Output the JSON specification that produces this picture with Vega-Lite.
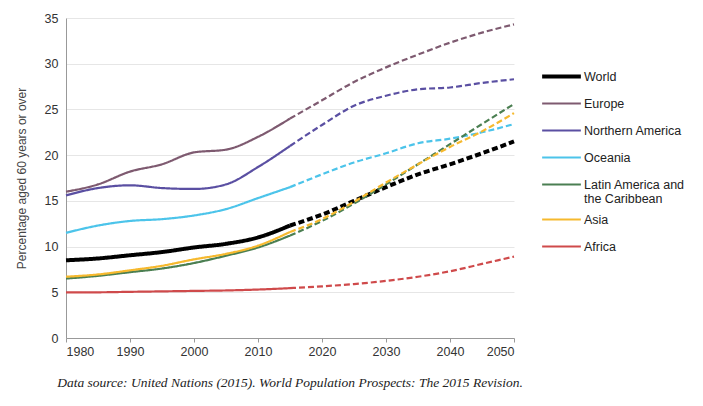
{
  "$schema": "https://vega.github.io/schema/vega-lite/v6.json",
  "width": 448,
  "height": 320,
  "autosize": {"type": "none"},
  "padding": {"left": 66, "top": 18, "right": 189, "bottom": 68},
  "background": "white",
  "title": {
    "text": "Data source: United Nations (2015). World Population Prospects: The 2015 Revision.",
    "orient": "bottom",
    "anchor": "middle",
    "font": "Liberation Serif",
    "fontSize": 13.5,
    "fontWeight": "normal",
    "fontStyle": "italic",
    "color": "#222",
    "offset": 18
  },
  "config": {
    "font": "Liberation Sans",
    "view": {"stroke": null},
    "axis": {"labelFont": "Liberation Sans", "titleFont": "Liberation Sans", "labelColor": "#333", "titleColor": "#444"}
  },
  "data": {
    "values": [
      {"region": "World", "year": 1980, "value": 8.5, "phase": "actual"},
      {"region": "World", "year": 1985, "value": 8.7, "phase": "actual"},
      {"region": "World", "year": 1990, "value": 9.05, "phase": "actual"},
      {"region": "World", "year": 1995, "value": 9.4, "phase": "actual"},
      {"region": "World", "year": 2000, "value": 9.9, "phase": "actual"},
      {"region": "World", "year": 2005, "value": 10.3, "phase": "actual"},
      {"region": "World", "year": 2010, "value": 11.0, "phase": "actual"},
      {"region": "World", "year": 2015, "value": 12.3, "phase": "actual"},
      {"region": "World", "year": 2015, "value": 12.3, "phase": "projected"},
      {"region": "World", "year": 2020, "value": 13.5, "phase": "projected"},
      {"region": "World", "year": 2025, "value": 15.0, "phase": "projected"},
      {"region": "World", "year": 2030, "value": 16.5, "phase": "projected"},
      {"region": "World", "year": 2035, "value": 17.9, "phase": "projected"},
      {"region": "World", "year": 2040, "value": 19.0, "phase": "projected"},
      {"region": "World", "year": 2045, "value": 20.2, "phase": "projected"},
      {"region": "World", "year": 2050, "value": 21.5, "phase": "projected"},

      {"region": "Europe", "year": 1980, "value": 16.0, "phase": "actual"},
      {"region": "Europe", "year": 1985, "value": 16.8, "phase": "actual"},
      {"region": "Europe", "year": 1990, "value": 18.2, "phase": "actual"},
      {"region": "Europe", "year": 1995, "value": 19.0, "phase": "actual"},
      {"region": "Europe", "year": 2000, "value": 20.3, "phase": "actual"},
      {"region": "Europe", "year": 2005, "value": 20.6, "phase": "actual"},
      {"region": "Europe", "year": 2010, "value": 22.0, "phase": "actual"},
      {"region": "Europe", "year": 2015, "value": 24.0, "phase": "actual"},
      {"region": "Europe", "year": 2015, "value": 24.0, "phase": "projected"},
      {"region": "Europe", "year": 2020, "value": 26.0, "phase": "projected"},
      {"region": "Europe", "year": 2025, "value": 28.0, "phase": "projected"},
      {"region": "Europe", "year": 2030, "value": 29.6, "phase": "projected"},
      {"region": "Europe", "year": 2035, "value": 31.0, "phase": "projected"},
      {"region": "Europe", "year": 2040, "value": 32.3, "phase": "projected"},
      {"region": "Europe", "year": 2045, "value": 33.4, "phase": "projected"},
      {"region": "Europe", "year": 2050, "value": 34.3, "phase": "projected"},

      {"region": "Northern America", "year": 1980, "value": 15.6, "phase": "actual"},
      {"region": "Northern America", "year": 1985, "value": 16.4, "phase": "actual"},
      {"region": "Northern America", "year": 1990, "value": 16.7, "phase": "actual"},
      {"region": "Northern America", "year": 1995, "value": 16.4, "phase": "actual"},
      {"region": "Northern America", "year": 2000, "value": 16.3, "phase": "actual"},
      {"region": "Northern America", "year": 2005, "value": 16.8, "phase": "actual"},
      {"region": "Northern America", "year": 2010, "value": 18.7, "phase": "actual"},
      {"region": "Northern America", "year": 2015, "value": 21.0, "phase": "actual"},
      {"region": "Northern America", "year": 2015, "value": 21.0, "phase": "projected"},
      {"region": "Northern America", "year": 2020, "value": 23.3, "phase": "projected"},
      {"region": "Northern America", "year": 2025, "value": 25.4, "phase": "projected"},
      {"region": "Northern America", "year": 2030, "value": 26.5, "phase": "projected"},
      {"region": "Northern America", "year": 2035, "value": 27.2, "phase": "projected"},
      {"region": "Northern America", "year": 2040, "value": 27.4, "phase": "projected"},
      {"region": "Northern America", "year": 2045, "value": 27.9, "phase": "projected"},
      {"region": "Northern America", "year": 2050, "value": 28.3, "phase": "projected"},

      {"region": "Oceania", "year": 1980, "value": 11.5, "phase": "actual"},
      {"region": "Oceania", "year": 1985, "value": 12.3, "phase": "actual"},
      {"region": "Oceania", "year": 1990, "value": 12.8, "phase": "actual"},
      {"region": "Oceania", "year": 1995, "value": 13.0, "phase": "actual"},
      {"region": "Oceania", "year": 2000, "value": 13.4, "phase": "actual"},
      {"region": "Oceania", "year": 2005, "value": 14.1, "phase": "actual"},
      {"region": "Oceania", "year": 2010, "value": 15.3, "phase": "actual"},
      {"region": "Oceania", "year": 2015, "value": 16.5, "phase": "actual"},
      {"region": "Oceania", "year": 2015, "value": 16.5, "phase": "projected"},
      {"region": "Oceania", "year": 2020, "value": 17.9, "phase": "projected"},
      {"region": "Oceania", "year": 2025, "value": 19.2, "phase": "projected"},
      {"region": "Oceania", "year": 2030, "value": 20.2, "phase": "projected"},
      {"region": "Oceania", "year": 2035, "value": 21.3, "phase": "projected"},
      {"region": "Oceania", "year": 2040, "value": 21.8, "phase": "projected"},
      {"region": "Oceania", "year": 2045, "value": 22.5, "phase": "projected"},
      {"region": "Oceania", "year": 2050, "value": 23.4, "phase": "projected"},

      {"region": "Latin America and the Caribbean", "year": 1980, "value": 6.5, "phase": "actual"},
      {"region": "Latin America and the Caribbean", "year": 1985, "value": 6.8, "phase": "actual"},
      {"region": "Latin America and the Caribbean", "year": 1990, "value": 7.2, "phase": "actual"},
      {"region": "Latin America and the Caribbean", "year": 1995, "value": 7.6, "phase": "actual"},
      {"region": "Latin America and the Caribbean", "year": 2000, "value": 8.2, "phase": "actual"},
      {"region": "Latin America and the Caribbean", "year": 2005, "value": 9.0, "phase": "actual"},
      {"region": "Latin America and the Caribbean", "year": 2010, "value": 9.9, "phase": "actual"},
      {"region": "Latin America and the Caribbean", "year": 2015, "value": 11.2, "phase": "actual"},
      {"region": "Latin America and the Caribbean", "year": 2015, "value": 11.2, "phase": "projected"},
      {"region": "Latin America and the Caribbean", "year": 2020, "value": 12.8, "phase": "projected"},
      {"region": "Latin America and the Caribbean", "year": 2025, "value": 14.7, "phase": "projected"},
      {"region": "Latin America and the Caribbean", "year": 2030, "value": 16.8, "phase": "projected"},
      {"region": "Latin America and the Caribbean", "year": 2035, "value": 19.0, "phase": "projected"},
      {"region": "Latin America and the Caribbean", "year": 2040, "value": 21.2, "phase": "projected"},
      {"region": "Latin America and the Caribbean", "year": 2045, "value": 23.4, "phase": "projected"},
      {"region": "Latin America and the Caribbean", "year": 2050, "value": 25.6, "phase": "projected"},

      {"region": "Asia", "year": 1980, "value": 6.7, "phase": "actual"},
      {"region": "Asia", "year": 1985, "value": 6.95, "phase": "actual"},
      {"region": "Asia", "year": 1990, "value": 7.4, "phase": "actual"},
      {"region": "Asia", "year": 1995, "value": 7.9, "phase": "actual"},
      {"region": "Asia", "year": 2000, "value": 8.6, "phase": "actual"},
      {"region": "Asia", "year": 2005, "value": 9.2, "phase": "actual"},
      {"region": "Asia", "year": 2010, "value": 10.1, "phase": "actual"},
      {"region": "Asia", "year": 2015, "value": 11.6, "phase": "actual"},
      {"region": "Asia", "year": 2015, "value": 11.6, "phase": "projected"},
      {"region": "Asia", "year": 2020, "value": 13.0, "phase": "projected"},
      {"region": "Asia", "year": 2025, "value": 14.9, "phase": "projected"},
      {"region": "Asia", "year": 2030, "value": 17.0, "phase": "projected"},
      {"region": "Asia", "year": 2035, "value": 19.0, "phase": "projected"},
      {"region": "Asia", "year": 2040, "value": 20.9, "phase": "projected"},
      {"region": "Asia", "year": 2045, "value": 22.6, "phase": "projected"},
      {"region": "Asia", "year": 2050, "value": 24.6, "phase": "projected"},

      {"region": "Africa", "year": 1980, "value": 5.0, "phase": "actual"},
      {"region": "Africa", "year": 1985, "value": 5.0, "phase": "actual"},
      {"region": "Africa", "year": 1990, "value": 5.05, "phase": "actual"},
      {"region": "Africa", "year": 1995, "value": 5.1, "phase": "actual"},
      {"region": "Africa", "year": 2000, "value": 5.15, "phase": "actual"},
      {"region": "Africa", "year": 2005, "value": 5.2, "phase": "actual"},
      {"region": "Africa", "year": 2010, "value": 5.3, "phase": "actual"},
      {"region": "Africa", "year": 2015, "value": 5.45, "phase": "actual"},
      {"region": "Africa", "year": 2015, "value": 5.45, "phase": "projected"},
      {"region": "Africa", "year": 2020, "value": 5.65, "phase": "projected"},
      {"region": "Africa", "year": 2025, "value": 5.9, "phase": "projected"},
      {"region": "Africa", "year": 2030, "value": 6.25, "phase": "projected"},
      {"region": "Africa", "year": 2035, "value": 6.7, "phase": "projected"},
      {"region": "Africa", "year": 2040, "value": 7.3, "phase": "projected"},
      {"region": "Africa", "year": 2045, "value": 8.1, "phase": "projected"},
      {"region": "Africa", "year": 2050, "value": 8.9, "phase": "projected"}
    ]
  },
  "mark": {"type": "line", "interpolate": "monotone", "strokeCap": "butt"},
  "encoding": {
    "x": {
      "field": "year", "type": "quantitative",
      "scale": {"domain": [1980, 2050], "nice": false, "zero": false},
      "axis": {"values": [1980, 1990, 2000, 2010, 2020, 2030, 2040, 2050], "format": "d", "grid": false, "title": null, "labelFontSize": 12.5, "domainColor": "#999", "tickColor": "#999", "tickSize": 4, "labelPadding": 3}
    },
    "y": {
      "field": "value", "type": "quantitative",
      "scale": {"domain": [0, 35], "nice": false},
      "axis": {"values": [0, 5, 10, 15, 20, 25, 30, 35], "title": "Percentage aged 60 years or over", "titleFontSize": 12, "titleFontWeight": "normal", "titlePadding": 16, "labelFontSize": 12.5, "gridColor": "#e6e6e6", "domainColor": "#999", "tickSize": 0, "labelPadding": 8}
    },
    "color": {
      "field": "region", "type": "nominal",
      "scale": {
        "domain": ["World", "Europe", "Northern America", "Oceania", "Latin America and the Caribbean", "Asia", "Africa"],
        "range": ["#000000", "#7e5a70", "#5a4fa2", "#4cc4ea", "#4b7f52", "#f6b92e", "#cf4a4b"]
      },
      "legend": {
        "title": null,
        "orient": "none",
        "legendX": 474,
        "legendY": 45,
        "direction": "vertical",
        "symbolType": "stroke",
        "symbolSize": 1500,
        "symbolStrokeWidth": 2.5,
        "labelFontSize": 12.5,
        "labelColor": "#222",
        "labelOffset": 1,
        "rowPadding": 0,
        "clipHeight": 27,
        "labelExpr": "datum.label == 'Latin America and the Caribbean' ? ['Latin America and', 'the Caribbean'] : datum.label"
      }
    },
    "strokeWidth": {
      "field": "region", "type": "nominal",
      "scale": {
        "type": "ordinal",
        "domain": ["World", "Europe", "Northern America", "Oceania", "Latin America and the Caribbean", "Asia", "Africa"],
        "range": [4, 2.2, 2.2, 2.2, 2.2, 2.2, 2.2]
      },
      "legend": null
    },
    "strokeDash": {
      "field": "phase", "type": "nominal",
      "scale": {"domain": ["actual", "projected"], "range": [[1, 0], [6, 3]]},
      "legend": null
    },
    "detail": {"field": "phase"},
    "order": {"field": "year"}
  }
}
